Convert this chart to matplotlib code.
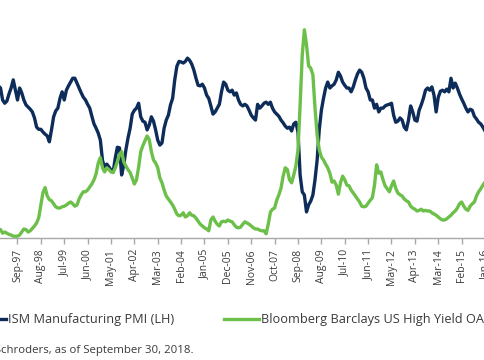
import matplotlib
matplotlib.use("Agg")
import matplotlib.pyplot as plt
import numpy as np

plt.rcParams['font.family'] = ['Open Sans', 'DejaVu Sans']

# monthly values, Dec-96 .. Feb-16
pmi = [56.3, 55.9, 53.7, 53.1, 53.5, 54.8, 55.9, 57.4, 55.5,
       53.7, 55.9, 55.0, 53.7, 52.8, 52.4, 52.0, 51.5, 50.4, 48.7,
       48.3, 48.3, 47.8, 47.4, 47.1, 46.0, 48.2, 50.6, 51.7, 52.2,
       54.0, 55.2, 53.7, 55.5, 56.3, 57.0, 57.7, 57.7, 56.8, 55.9,
       55.0, 54.2, 53.7, 52.9, 52.2, 50.7, 49.3, 48.5, 47.6, 46.3,
       42.6, 41.2, 41.9, 41.4, 40.8, 40.4, 43.0, 45.0, 44.9, 39.9,
       41.7, 44.5, 46.7, 48.5, 51.1, 51.8, 52.2, 53.1, 50.6, 49.8,
       49.6, 48.2, 49.1, 50.6, 49.8, 48.2, 46.3, 45.4, 45.8, 48.5,
       50.0, 50.9, 52.8, 54.0, 57.4, 59.9, 60.8, 60.7, 60.5, 60.8,
       61.4, 61.0, 60.3, 59.2, 57.7, 56.4, 56.3, 56.6, 55.9, 54.6,
       54.0, 52.6, 51.1, 51.5, 52.2, 52.9, 55.2, 57.0, 56.6, 55.5,
       55.2, 55.5, 54.6, 55.0, 53.7, 52.9, 52.6, 52.9, 52.6, 51.8,
       50.9, 50.4, 50.0, 52.9, 52.2, 52.6, 53.1, 53.3, 52.9, 53.3,
       52.2, 51.5, 51.1, 50.7, 50.0, 49.5, 48.9, 48.5, 48.7, 48.0,
       49.3, 49.6, 47.8, 39.9, 36.8, 36.2, 33.1, 34.4, 35.1, 36.2,
       39.0, 42.6, 48.2, 51.8, 54.0, 55.9, 57.0, 55.9, 56.3, 56.6,
       57.4, 58.8, 58.1, 57.0, 56.4, 55.9, 55.9, 55.2, 56.1, 57.4,
       58.5, 59.2, 58.8, 57.7, 55.9, 55.2, 53.7, 53.7, 52.2, 52.9,
       51.5, 52.2, 52.2, 52.6, 52.8, 52.9, 53.1, 50.9, 49.6, 49.8,
       50.4, 50.0, 48.7, 48.2, 50.0, 52.6, 51.5, 50.0, 49.8, 51.8,
       52.8, 54.0, 55.5, 55.9, 55.5, 56.1, 54.6, 51.5, 54.2, 55.3,
       55.5, 55.2, 55.7, 55.2, 57.7, 55.9, 56.8, 55.9, 54.8, 53.9,
       53.1, 52.2, 51.5, 52.0, 51.8, 50.7, 50.2, 49.6, 49.3, 48.7,
       48.0, 47.6]

hy_oas = [3.05, 3.0, 2.7, 2.8, 2.7, 2.6, 2.55, 2.45, 2.45,
          2.45, 2.55, 2.8, 3.05, 3.0, 2.8, 2.9, 3.1, 3.3, 3.55,
          4.0, 5.05, 6.1, 6.5, 5.8, 5.5, 5.4, 5.15, 4.9, 4.8,
          4.8, 4.9, 4.95, 5.05, 5.2, 5.3, 5.15, 4.95, 5.05, 5.55,
          5.9, 6.15, 6.15, 6.3, 6.55, 6.8, 7.15, 7.65, 8.55, 9.0,
          8.15, 7.8, 8.15, 8.0, 7.8, 7.75, 8.15, 8.65, 9.25, 9.5,
          8.65, 8.3, 8.0, 7.75, 7.3, 6.8, 7.15, 8.2, 9.5, 10.0,
          10.4, 10.8, 10.5, 9.5, 8.8, 8.55, 8.15, 7.3, 6.9, 6.3,
          5.8, 5.55, 5.3, 5.05, 4.7, 4.3, 4.15, 4.2, 4.4, 4.05,
          4.15, 4.4, 4.2, 4.15, 3.95, 3.7, 3.45, 3.3, 3.15, 3.05,
          2.9, 3.8, 4.05, 3.7, 3.45, 3.3, 3.65, 3.7, 3.65, 3.8,
          3.7, 3.65, 3.4, 3.2, 3.15, 3.2, 3.45, 3.65, 3.55, 3.45,
          3.3, 3.15, 3.05, 3.05, 2.95, 2.9, 2.9, 2.65, 3.45, 4.45,
          4.7, 4.8, 5.45, 5.9, 6.45, 7.45, 8.15, 8.0, 7.15, 6.9,
          7.55, 8.3, 9.65, 13.4, 17.55, 19.65, 18.4, 16.65, 16.45, 15.9,
          13.15, 10.9, 9.65, 9.05, 8.8, 8.45, 8.15, 7.7, 6.95, 7.05,
          6.7, 5.95, 6.9, 7.45, 7.15, 6.7, 6.65, 6.3, 6.05, 5.8,
          5.55, 5.3, 4.95, 4.9, 4.95, 5.2, 5.45, 5.65, 6.7, 8.4,
          7.7, 7.8, 7.15, 6.65, 6.4, 6.15, 6.65, 7.05, 6.45, 6.05,
          5.9, 5.8, 5.55, 5.4, 5.3, 4.95, 4.8, 4.7, 4.55, 4.6,
          4.7, 4.55, 4.6, 4.55, 4.55, 4.4, 4.3, 4.2, 4.05, 3.9,
          3.8, 3.8, 3.9, 4.05, 4.2, 4.4, 4.55, 4.8, 5.15, 5.3,
          4.95, 4.7, 4.6, 4.95, 5.15, 5.3, 5.8, 6.15, 6.4, 6.7,
          6.95, 7.3]

tick_labels = ['Sep-97', 'Aug-98', 'Jul-99', 'Jun-00', 'May-01', 'Apr-02',
               'Mar-03', 'Feb-04', 'Jan-05', 'Dec-05', 'Nov-06', 'Oct-07',
               'Sep-08', 'Aug-09', 'Jul-10', 'Jun-11', 'May-12', 'Apr-13',
               'Mar-14', 'Feb-15', 'Jan-16']
first_tick = 9     # Sep-97 is the 10th month of the series
tick_step = 11

navy = '#0e2c5a'
green = '#6cc04a'
grey_txt = '#3a3a3a'

fig = plt.figure(figsize=(4.85, 3.6), dpi=100)
ax = fig.add_axes([0, 122 / 360, 1, 238 / 360])
ax2 = ax.twinx()

x = np.arange(len(pmi))
l1, = ax.plot(x, pmi, color=navy, lw=2.4, solid_joinstyle='round',
              label='ISM Manufacturing PMI (LH)')
l2, = ax2.plot(x, hy_oas, color=green, lw=2.4, solid_joinstyle='round',
               label='Bloomberg Barclays US High Yield OAS (RH)')

ax.set_xlim(0.77, 228.8)
ax.set_ylim(28.3, 72.1)
ax2.set_ylim(2.3, 22.13)

for a in (ax, ax2):
    for s in ('left', 'right', 'top'):
        a.spines[s].set_visible(False)
ax2.spines['bottom'].set_visible(False)
ax.spines['bottom'].set_color('#a8a8a8')
ax.spines['bottom'].set_linewidth(1.0)

ax.tick_params(axis='y', left=False, labelleft=False)
ax2.tick_params(axis='y', right=False, labelright=False)

ticks = first_tick + tick_step * np.arange(len(tick_labels))
ax.set_xticks(ticks)
ax.set_xticklabels(tick_labels, rotation=90, fontsize=7.5, color=grey_txt)
ax.tick_params(axis='x', direction='out', length=4.5, width=1.0,
               color='#a8a8a8', pad=3.5)

fig.legend(handles=[l1, l2], ncol=2, loc='center left',
           bbox_to_anchor=(-29 / 485, 40 / 360), frameon=False,
           fontsize=9.2, handlelength=2.75, handletextpad=0.15,
           columnspacing=3.9, borderpad=0, borderaxespad=0,
           labelcolor=grey_txt)

fig.text(194 / 485, 10 / 360,
         'Source: Bloomberg, Schroders, as of September 30, 2018.',
         ha='right', va='center', fontsize=8.2, color=grey_txt)

fig.savefig('out.png', dpi=100)
